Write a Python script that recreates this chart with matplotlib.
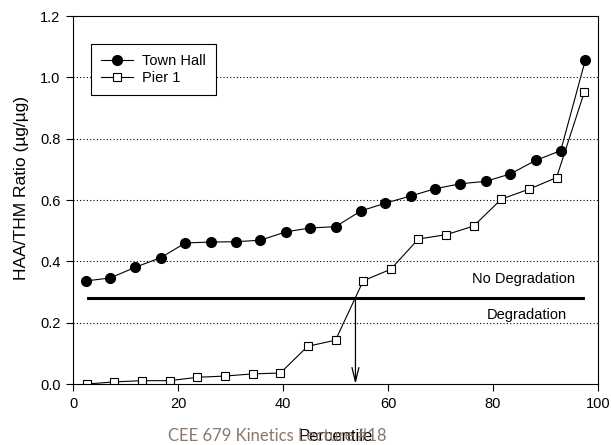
import matplotlib
matplotlib.use("Agg")
import matplotlib.pyplot as plt

# percentile positions and HAA/THM ratios
town_hall_pct = [2.4, 7.1, 11.9, 16.7, 21.4, 26.2, 31.0, 35.7, 40.5, 45.2, 50.0,
                 54.8, 59.5, 64.3, 69.0, 73.8, 78.6, 83.3, 88.1, 92.9, 97.6]
town_hall_ratio = [0.336, 0.346, 0.381, 0.412, 0.460, 0.463, 0.464, 0.469, 0.496,
                   0.509, 0.513, 0.564, 0.590, 0.613, 0.637, 0.653, 0.661, 0.685,
                   0.729, 0.761, 1.057]

pier1_pct = [2.6, 7.9, 13.2, 18.4, 23.7, 28.9, 34.2, 39.5, 44.7, 50.0, 55.3,
             60.5, 65.8, 71.1, 76.3, 81.6, 86.8, 92.1, 97.4]
pier1_ratio = [0.000, 0.007, 0.011, 0.011, 0.022, 0.026, 0.033, 0.036, 0.123,
               0.143, 0.337, 0.374, 0.473, 0.487, 0.515, 0.603, 0.635, 0.673, 0.952]

threshold = 0.282
threshold_span = [2.8, 97.1]
crossing_pct = 53.8

plt.rcParams["font.family"] = ["Liberation Sans", "DejaVu Sans"]

fig = plt.figure(figsize=(6.11, 4.45), dpi=100)
ax = fig.add_axes([0.1195, 0.137, 0.8592, 0.827])

ax.plot(town_hall_pct, town_hall_ratio, color="black", lw=0.8, marker="o",
        markersize=7, markerfacecolor="black", label="Town Hall")
ax.plot(pier1_pct, pier1_ratio, color="black", lw=0.8, marker="s",
        markersize=6, markerfacecolor="white", markeredgewidth=0.8, label="Pier 1")

ax.plot(threshold_span, [threshold, threshold], color="black", lw=2.2)
ax.annotate("", xy=(crossing_pct, 0.0), xytext=(crossing_pct, threshold),
            arrowprops=dict(arrowstyle="->,head_length=1.0,head_width=0.25",
                            color="black", lw=0.9, shrinkA=0, shrinkB=0))
ax.text(85.9, 0.341, "No Degradation", ha="center", va="center", fontsize=10.5)
ax.text(86.5, 0.226, "Degradation", ha="center", va="center", fontsize=10.5)

ax.set_xlim(0, 100)
ax.set_ylim(0, 1.2)
ax.set_xticks([0, 20, 40, 60, 80, 100])
ax.set_yticks([0.0, 0.2, 0.4, 0.6, 0.8, 1.0, 1.2])
ax.set_yticklabels(["0.0", "0.2", "0.4", "0.6", "0.8", "1.0", "1.2"])
ax.tick_params(direction="out", length=5, width=0.8, labelsize=10.5, pad=4)
for y in [0.2, 0.4, 0.6, 0.8, 1.0]:
    ax.axhline(y, color="black", lw=0.8, ls=(0, (1, 2)), zorder=0)
for s in ax.spines.values():
    s.set_linewidth(0.8)

ax.set_xlabel("Percentile", fontsize=12)
ax.xaxis.set_label_coords(0.5, -0.122)
ax.set_ylabel("HAA/THM Ratio (\u00b5g/\u00b5g)", fontsize=12.5, va="center")
ax.yaxis.set_label_coords(-0.099, 0.533)

leg = ax.legend(loc="upper left", bbox_to_anchor=(0.034, 0.924), fontsize=10.5,
                frameon=True, fancybox=False, edgecolor="black", framealpha=1,
                handlelength=2.2, borderpad=0.7, labelspacing=0.2,
                handletextpad=0.6, borderaxespad=0)
leg.get_frame().set_linewidth(0.8)

fig.text(0.275, 0.02, "CEE 679 Kinetics Lecture #18", fontsize=12,
         family=["Lato", "DejaVu Sans"], color="#8a776b", va="center", ha="left")

fig.savefig("out.png", dpi=100)
